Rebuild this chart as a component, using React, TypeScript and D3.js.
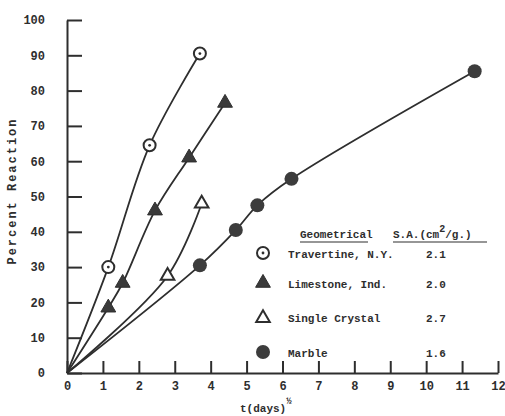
import { useEffect, useRef } from "react"
import * as d3 from "d3"

// Values: x = t(days)^1/2, y = percent reaction
const travertineX = [1.15, 2.3, 3.7]
const travertineY = [30, 64.5, 90.5]
const limestoneX = [1.15, 1.55, 2.45, 3.4, 4.4]
const limestoneY = [18.5, 25.5, 46, 61, 76.5]
const crystalX = [2.8, 3.75]
const crystalY = [27.5, 48]
const marbleX = [3.7, 4.7, 5.3, 6.25, 11.35]
const marbleY = [30.5, 40.5, 47.5, 55, 85.5]

const xTicks = d3.range(0, 13)
const yTicks = d3.range(0, 101, 10)

const legendNames = ["Travertine, N.Y.", "Limestone, Ind.", "Single Crystal", "Marble"]
const legendValues = ["2.1", "2.0", "2.7", "1.6"]

const INK = "#2e2e2e"
const FONT = "'Liberation Mono', 'DejaVu Sans Mono', monospace"

export default function App() {
  const svgRef = useRef<SVGSVGElement>(null)

  useEffect(() => {
    if (!svgRef.current) return
    const svg = d3.select(svgRef.current)
    svg.selectAll("*").remove()

    const width = 505
    const height = 416
    svg.attr("width", width).attr("height", height)

    svg.append("rect").attr("width", width).attr("height", height).attr("fill", "#ffffff")

    const x = d3.scaleLinear().domain([0, 12]).range([67, 498])
    const y = d3.scaleLinear().domain([0, 100]).range([373, 20])

    // x axis, ticks pointing up
    const xAxis = svg
      .append("g")
      .attr("transform", `translate(0,${y(0)})`)
      .call(d3.axisBottom(x).tickValues(xTicks).tickSizeInner(-12).tickSizeOuter(0).tickPadding(8).tickFormat(d3.format("d")))
    xAxis.select(".domain").attr("stroke", INK).attr("stroke-width", 2)
    xAxis.selectAll(".tick line").attr("stroke", INK).attr("stroke-width", 2)
    xAxis
      .selectAll(".tick text")
      .attr("fill", INK)
      .style("font-family", FONT)
      .style("font-size", "12px")
      .style("font-weight", "bold")

    // y axis, ticks pointing right
    const yAxis = svg
      .append("g")
      .attr("transform", `translate(${x(0)},0)`)
      .call(d3.axisLeft(y).tickValues(yTicks).tickSizeInner(-15).tickSizeOuter(0).tickPadding(22).tickFormat(d3.format("d")))
    yAxis.select(".domain").attr("stroke", INK).attr("stroke-width", 2)
    yAxis.selectAll(".tick line").attr("stroke", INK).attr("stroke-width", 2)
    yAxis
      .selectAll(".tick text")
      .attr("fill", INK)
      .style("font-family", FONT)
      .style("font-size", "12px")
      .style("font-weight", "bold")

    // axis titles
    svg
      .append("text")
      .attr("transform", `translate(16,${192}) rotate(-90)`)
      .attr("text-anchor", "middle")
      .attr("textLength", 145)
      .attr("lengthAdjust", "spacing")
      .attr("fill", INK)
      .style("font-family", FONT)
      .style("font-size", "12px")
      .style("font-weight", "bold")
      .text("Percent Reaction")

    const xt = svg
      .append("text")
      .attr("x", 240)
      .attr("y", 412)
      .attr("fill", INK)
      .style("font-family", FONT)
      .style("font-size", "11px")
      .style("font-weight", "bold")
    xt.append("tspan").text("t(days)")
    xt.append("tspan").attr("dy", -8).style("font-size", "9px").text("½")

    // curves
    const line = d3
      .line<[number, number]>()
      .x((d) => x(d[0]))
      .y((d) => y(d[1]))
      .curve(d3.curveCatmullRom.alpha(0.5))

    const series = [
      { xs: travertineX, ys: travertineY },
      { xs: limestoneX, ys: limestoneY },
      { xs: crystalX, ys: crystalY },
      { xs: marbleX, ys: marbleY },
    ]

    series.forEach((s) => {
      const pts: [number, number][] = [[0, 0], ...s.xs.map((v, i) => [v, s.ys[i]] as [number, number])]
      svg
        .append("path")
        .attr("d", line(pts))
        .attr("fill", "none")
        .attr("stroke", INK)
        .attr("stroke-width", 1.8)
    })

    const triangle = d3.symbol().type(d3.symbolTriangle).size(95)
    const openTriangle = d3.symbol().type(d3.symbolTriangle).size(80)

    const drawTravertine = (g: d3.Selection<SVGGElement, unknown, null, undefined>) => {
      g.append("circle").attr("r", 6).attr("fill", "#ffffff").attr("stroke", INK).attr("stroke-width", 2)
      g.append("circle").attr("r", 1.4).attr("fill", INK)
    }
    const drawLimestone = (g: d3.Selection<SVGGElement, unknown, null, undefined>) => {
      g.append("path").attr("d", triangle()).attr("fill", "#3a3a3a").attr("stroke", INK).attr("stroke-width", 1)
    }
    const drawCrystal = (g: d3.Selection<SVGGElement, unknown, null, undefined>) => {
      g.append("path").attr("d", openTriangle()).attr("fill", "#ffffff").attr("stroke", INK).attr("stroke-width", 2)
    }
    const drawMarble = (g: d3.Selection<SVGGElement, unknown, null, undefined>) => {
      g.append("circle").attr("r", 7).attr("fill", "#3c3c3c")
    }
    const drawers = [drawTravertine, drawLimestone, drawCrystal, drawMarble]

    series.forEach((s, si) => {
      s.xs.forEach((v, i) => {
        const g = svg.append("g").attr("transform", `translate(${x(v)},${y(s.ys[i])})`)
        drawers[si](g)
      })
    })

    // legend
    const legend = svg.append("g").style("font-family", FONT).style("font-size", "11px").style("font-weight", "bold")

    legend.append("text").attr("x", 300).attr("y", 238).attr("fill", INK).text("Geometrical")
    const sa = legend.append("text").attr("x", 393).attr("y", 238).attr("fill", INK)
    sa.append("tspan").text("S.A.(cm")
    sa.append("tspan").attr("dy", -6).style("font-size", "10px").text("2")
    sa.append("tspan").attr("dy", 6).text("/g.)")
    legend.append("line").attr("x1", 300).attr("x2", 368).attr("y1", 242).attr("y2", 242).attr("stroke", INK).attr("stroke-width", 1.2)
    legend.append("line").attr("x1", 393).attr("x2", 487).attr("y1", 242).attr("y2", 242).attr("stroke", INK).attr("stroke-width", 1.2)

    const rowSymbolY = [253, 283, 318, 352]
    const rowTextY = [258, 288, 322, 357]
    legendNames.forEach((name, i) => {
      const g = legend.append("g").attr("transform", `translate(263,${rowSymbolY[i]})`)
      drawers[i](g)
      legend.append("text").attr("x", 288).attr("y", rowTextY[i]).attr("fill", INK).text(name)
      legend.append("text").attr("x", 426).attr("y", rowTextY[i]).attr("fill", INK).text(legendValues[i])
    })
  }, [])

  return (
    <div style={{ position: "absolute", left: 0, top: 0 }}>
      <svg ref={svgRef}></svg>
    </div>
  )
}
